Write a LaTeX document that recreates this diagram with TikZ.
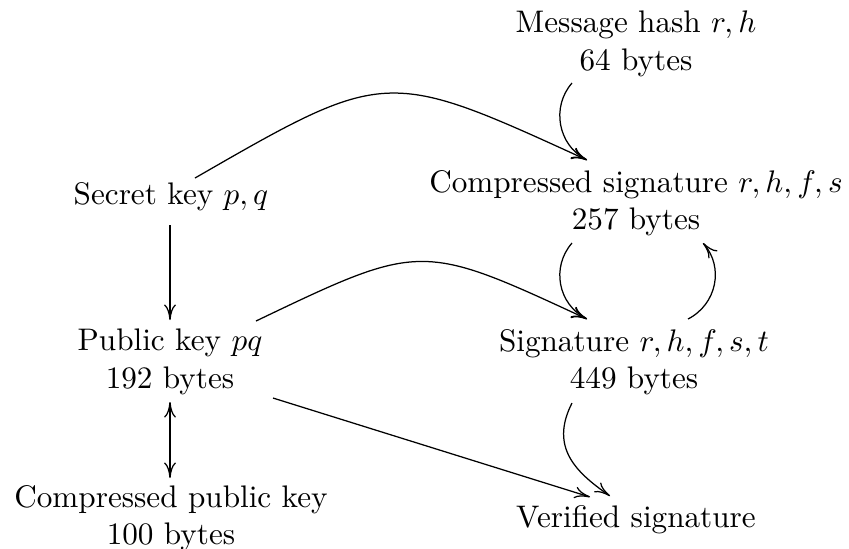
\documentclass[tikz,border=0pt]{standalone}
\usetikzlibrary{calc,arrows.meta}
\begin{document}
\begin{tikzpicture}[x=0.3205pt,y=-0.3205pt,
  lbl/.style={align=center,inner sep=0pt},
  arr/.style={-{Computer Modern Rightarrow[length=5pt,width=3.8pt]},line width=0.4pt},
  darr/.style={{Computer Modern Rightarrow[length=5pt,width=3.8pt]}-{Computer Modern Rightarrow[length=5pt,width=3.8pt]},line width=0.4pt}]
\useasboundingbox (0,0) rectangle (849,548);
\node[lbl] (msg) at (636,44) {Message hash $r,h$\\64 bytes};
\node[lbl] (secret) at (171,197) {Secret key $p,q$};
\node[lbl] (comp) at (636,203) {Compressed signature $r,h,f,s$\\257 bytes};
\node[lbl] (pub) at (170,362) {Public key $pq$\\192 bytes};
\node[lbl] (sig) at (634,362) {Signature $r,h,f,s,t$\\449 bytes};
\node[lbl] (cpub) at (171,518) {Compressed public key\\100 bytes};
\node[lbl] (ver) at (636,520) {Verified signature};

\draw[arr] ($(msg)+(-64,39)$) .. controls ($(msg)+(-85,63)$) and ($(comp)+(-78,-58)$) .. ($(comp)+(-49,-43)$);
\draw[arr] ($(comp)+(-64,40)$) .. controls ($(comp)+(-85,64)$) and ($(sig)+(-76,-58)$) .. ($(sig)+(-47,-43)$);
\draw[arr] ($(sig)+(54,-43)$) .. controls ($(sig)+(83,-58)$) and ($(comp)+(88,64)$) .. ($(comp)+(67,40)$);
\draw[arr] ($(sig)+(-62,41)$) .. controls ($(sig)+(-85,86)$) and ($(ver)+(-59,-47)$) .. ($(ver)+(-26,-24)$);
\draw[arr] ($(secret)+(24,-19)$) .. controls ($(secret)+(215,-129)$) .. ($(comp)+(-49,-43)$);
\draw[arr] ($(pub)+(86,-41)$) .. controls ($(pub)+(251,-120)$) .. ($(sig)+(-47,-43)$);
\draw[arr] ($(pub)+(103,36)$) -- ($(ver)+(-46,-23)$);
\draw[arr] ($(secret)+(-1,28)$) -- ($(pub)+(0,-42)$);
\draw[darr] ($(pub)+(0,40)$) -- ($(cpub)+(-1,-40)$);
\end{tikzpicture}
\end{document}
